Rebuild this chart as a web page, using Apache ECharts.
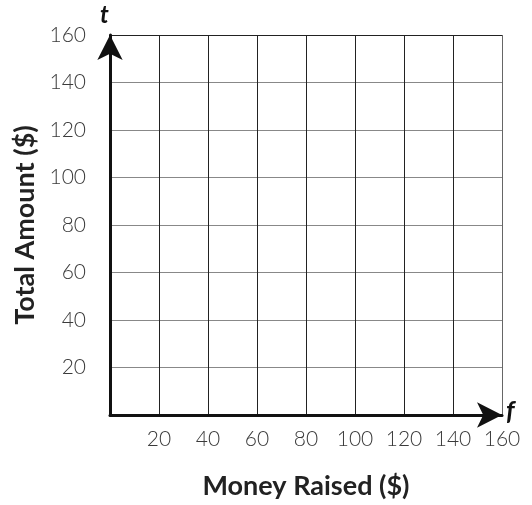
<!DOCTYPE html>
<html>
<head>
<meta charset="utf-8">
<script src="https://cdn.jsdelivr.net/npm/echarts@6/dist/echarts.min.js"></script>
<style>html,body{margin:0;padding:0;background:#fff;overflow:hidden}#c{width:532px;height:505px}</style>
</head>
<body>
<div id="c"></div>
<script>
const xTicks = [0, 20, 40, 60, 80, 100, 120, 140, 160];
const yTicks = [0, 20, 40, 60, 80, 100, 120, 140, 160];
const xName = 'Money Raised ($)';
const yName = 'Total Amount ($)';
const xVar = 'f';
const yVar = 't';
const seriesData = [];

const chart = echarts.init(document.getElementById('c'));
const labelFont = {fontFamily: 'Lato', fontSize: 21, fontWeight: 300, color: '#3a3a3a'};
const nameFont = {fontFamily: 'Lato', fontSize: 27, fontWeight: 'bold', color: '#222'};
const ySplitColors = ['rgba(0,0,0,0)', '#888', '#888', '#888', '#888', '#888', '#888', '#888', '#222'];
const xSplitColors = ['rgba(0,0,0,0)', '#222', '#222', '#222', '#222', '#222', '#222', '#222', '#666'];
chart.setOption({
  animation: false,
  grid: {left: 110, right: 30, top: 35, bottom: 83, containLabel: false},
  xAxis: {
    type: 'value', min: xTicks[0], max: xTicks[xTicks.length - 1], interval: 20,
    name: xName, nameLocation: 'middle', nameGap: 58,
    nameTextStyle: nameFont,
    axisLine: {show: true, symbol: ['none', 'arrow'], symbolSize: [19, 25], lineStyle: {color: '#111', width: 3}},
    axisTick: {show: false},
    axisLabel: Object.assign({margin: 14, formatter: v => v === 0 ? '' : String(v)}, labelFont),
    splitLine: {show: true, lineStyle: {color: xSplitColors, width: 1}}
  },
  yAxis: {
    type: 'value', min: yTicks[0], max: yTicks[yTicks.length - 1], interval: 20,
    offset: 3,
    name: yName, nameLocation: 'middle', nameGap: 63, nameRotate: 90,
    nameTextStyle: nameFont,
    axisLine: {show: true, symbol: ['none', 'arrow'], symbolSize: [19, 25], lineStyle: {color: '#111', width: 3}},
    axisTick: {show: false},
    axisLabel: Object.assign({margin: 21, formatter: v => v === 0 ? '' : String(v)}, labelFont),
    splitLine: {show: true, lineStyle: {color: ySplitColors, width: 1}}
  },
  graphic: [
    {type: 'text', left: 100, top: 3, style: {text: yVar, font: 'italic bold 24px Lato', fill: '#111'}},
    {type: 'text', left: 506, top: 399, style: {text: xVar, font: 'italic bold 26px Lato', fill: '#111'}}
  ],
  series: [{type: 'line', data: seriesData}]
});
</script>
</body>
</html>
